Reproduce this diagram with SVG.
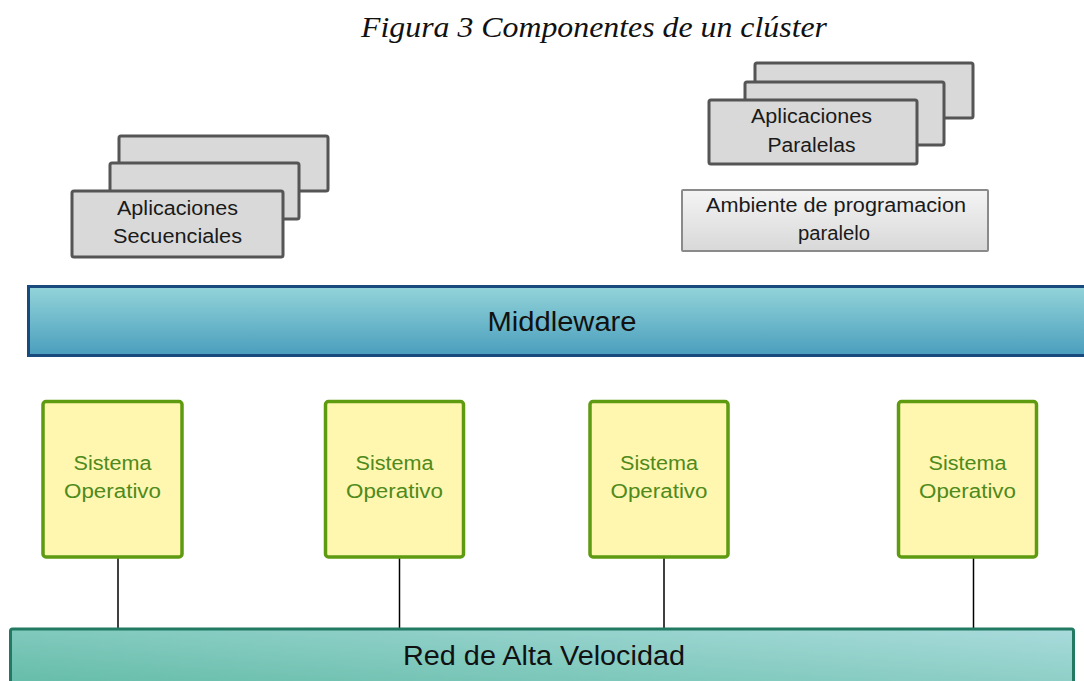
<svg xmlns="http://www.w3.org/2000/svg" width="1084" height="681" viewBox="0 0 1084 681">
  <defs>
    <linearGradient id="gMid" x1="0" y1="0" x2="0" y2="1">
      <stop offset="0" stop-color="#93d4d9"/>
      <stop offset="1" stop-color="#4a9ebd"/>
    </linearGradient>
    <linearGradient id="gNet" x1="0" y1="1" x2="1" y2="0">
      <stop offset="0" stop-color="#58b79e"/>
      <stop offset="1" stop-color="#a9dbdc"/>
    </linearGradient>
    <linearGradient id="gEnv" x1="0" y1="0" x2="0" y2="1">
      <stop offset="0" stop-color="#f4f4f4"/>
      <stop offset="1" stop-color="#d8d8d8"/>
    </linearGradient>
    <style>
      .app { fill: #d9d9d9; stroke: #555555; stroke-width: 3; }
      .env { fill: url(#gEnv); stroke: #8a8a8a; stroke-width: 2; }
      .os { fill: #fff6b0; stroke: #5f9b10; stroke-width: 3.5; }
      .lbl { font-family: "Liberation Sans", Arial, sans-serif; font-size: 20px; fill: #1a1a1a; text-anchor: middle; }
      .oslbl { font-family: "Liberation Sans", Arial, sans-serif; font-size: 20px; fill: #4e8a1c; text-anchor: middle; }
      .bar { font-family: "Liberation Sans", Arial, sans-serif; font-size: 27px; fill: #111111; text-anchor: middle; }
      .link { stroke: #000000; stroke-width: 1.5; fill: none; }
    </style>
  </defs>

  <rect width="1084" height="681" fill="#ffffff"/>

  <text id="title" x="594" y="37" font-family="'Liberation Serif', 'Times New Roman', serif" font-style="italic" font-size="29" fill="#111111" text-anchor="middle" textLength="466" lengthAdjust="spacingAndGlyphs">Figura 3 Componentes de un clúster</text>

  <!-- connectors: OS boxes down to the network bar -->
  <g id="connectors">
    <line class="link" x1="118" y1="557" x2="118" y2="629"/>
    <line class="link" x1="399.5" y1="557" x2="399.5" y2="629"/>
    <line class="link" x1="664" y1="557" x2="664" y2="629"/>
    <line class="link" x1="973.5" y1="557" x2="973.5" y2="629"/>
  </g>

  <g id="seq-apps">
    <rect class="app" x="119" y="136" width="209" height="55" rx="2"/>
    <rect class="app" x="110" y="163" width="189" height="56" rx="2"/>
    <rect class="app" x="72" y="191" width="211" height="66" rx="2"/>
    <text class="lbl" x="177.5" y="215" textLength="121" lengthAdjust="spacingAndGlyphs">Aplicaciones</text>
    <text class="lbl" x="177.5" y="243" textLength="129" lengthAdjust="spacingAndGlyphs">Secuenciales</text>
  </g>

  <g id="par-apps">
    <rect class="app" x="755" y="63" width="218" height="55" rx="2"/>
    <rect class="app" x="745" y="82" width="199" height="63" rx="2"/>
    <rect class="app" x="709" y="100" width="208" height="64" rx="2"/>
    <text class="lbl" x="811.5" y="123" textLength="121" lengthAdjust="spacingAndGlyphs">Aplicaciones</text>
    <text class="lbl" x="811.5" y="152" textLength="88" lengthAdjust="spacingAndGlyphs">Paralelas</text>
  </g>

  <g id="par-env">
    <rect class="env" x="682" y="190" width="306" height="61" rx="1"/>
    <text class="lbl" x="836" y="212" textLength="260" lengthAdjust="spacingAndGlyphs">Ambiente de programacion</text>
    <text class="lbl" x="834" y="240" textLength="72" lengthAdjust="spacingAndGlyphs">paralelo</text>
  </g>

  <g id="middleware">
    <rect x="28.5" y="286.5" width="1070" height="69" fill="url(#gMid)" stroke="#184a7e" stroke-width="3"/>
    <text class="bar" x="562" y="331" textLength="149" lengthAdjust="spacingAndGlyphs">Middleware</text>
  </g>

  <g id="os1">
    <rect class="os" x="43" y="401.5" width="139" height="155.5" rx="3"/>
    <text class="oslbl" x="112.5" y="470" textLength="78" lengthAdjust="spacingAndGlyphs">Sistema</text>
    <text class="oslbl" x="112.5" y="498" textLength="97" lengthAdjust="spacingAndGlyphs">Operativo</text>
  </g>
  <g id="os2">
    <rect class="os" x="325.5" y="401.5" width="138" height="155.5" rx="3"/>
    <text class="oslbl" x="394.5" y="470" textLength="78" lengthAdjust="spacingAndGlyphs">Sistema</text>
    <text class="oslbl" x="394.5" y="498" textLength="97" lengthAdjust="spacingAndGlyphs">Operativo</text>
  </g>
  <g id="os3">
    <rect class="os" x="590" y="401.5" width="138" height="155.5" rx="3"/>
    <text class="oslbl" x="659" y="470" textLength="78" lengthAdjust="spacingAndGlyphs">Sistema</text>
    <text class="oslbl" x="659" y="498" textLength="97" lengthAdjust="spacingAndGlyphs">Operativo</text>
  </g>
  <g id="os4">
    <rect class="os" x="898.5" y="401.5" width="138" height="155.5" rx="3"/>
    <text class="oslbl" x="967.5" y="470" textLength="78" lengthAdjust="spacingAndGlyphs">Sistema</text>
    <text class="oslbl" x="967.5" y="498" textLength="97" lengthAdjust="spacingAndGlyphs">Operativo</text>
  </g>

  <g id="network">
    <rect x="10.5" y="629" width="1063" height="80" rx="2" fill="url(#gNet)" stroke="#237a62" stroke-width="3"/>
    <text class="bar" x="544" y="665" textLength="282" lengthAdjust="spacingAndGlyphs">Red de Alta Velocidad</text>
  </g>
</svg>
